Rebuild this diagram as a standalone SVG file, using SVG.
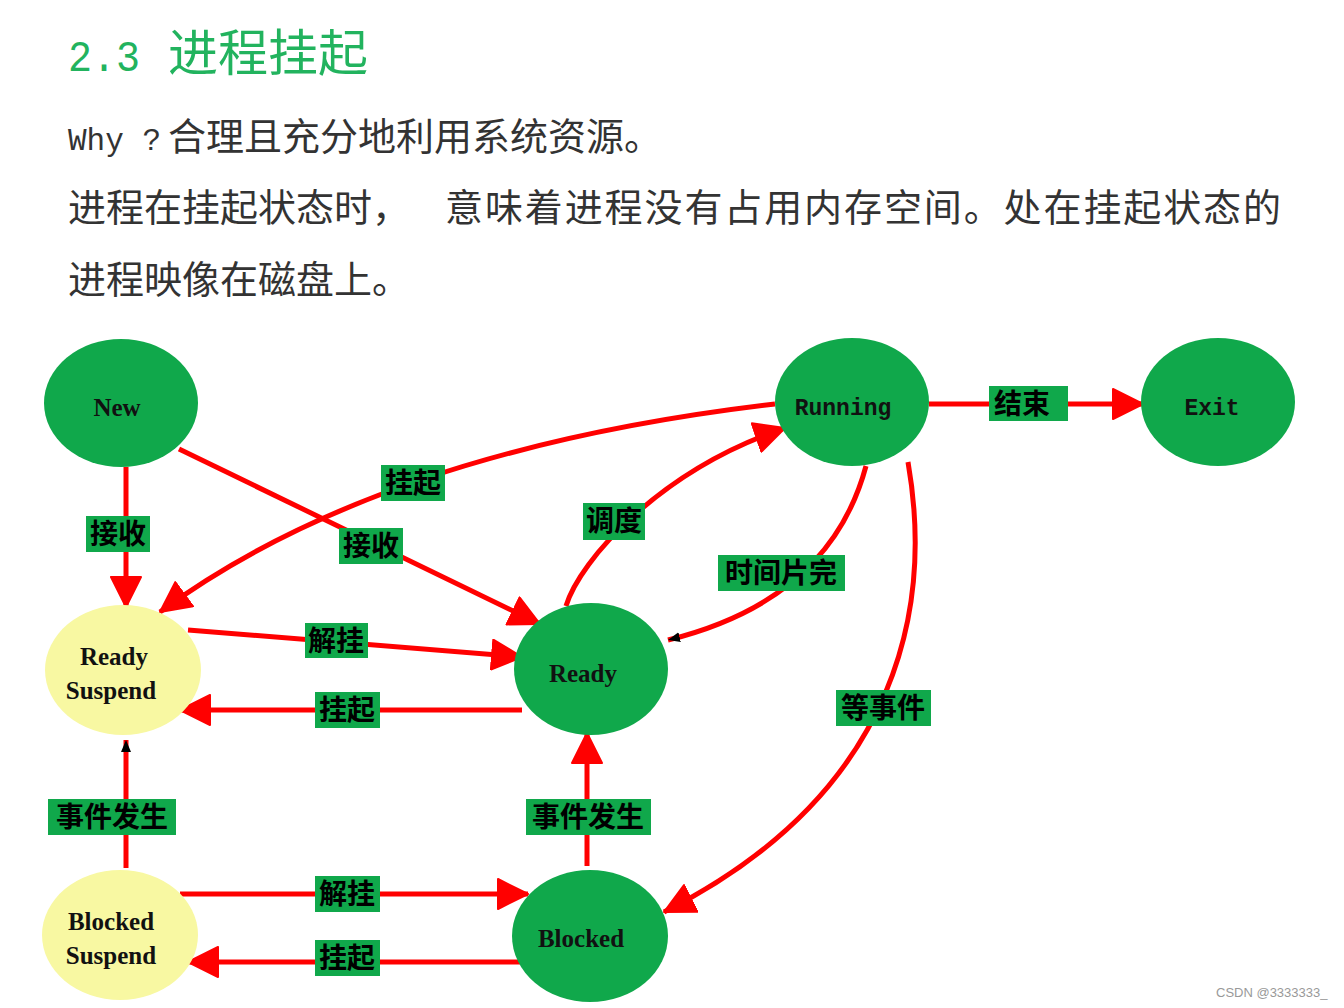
<svg xmlns="http://www.w3.org/2000/svg" width="1344" height="1008" viewBox="0 0 1344 1008">
<style>
.node{fill:#10a84b}
.sus{fill:#f8f8a2}
.edge{fill:none;stroke:#ff0000;stroke-width:5}
.arr{marker-end:url(#big)}
.sarr{marker-end:url(#small)}
.lbox{fill:#10a84b}
.ltxt{font-family:"Noto Sans CJK SC","Noto Sans CJK JP",sans-serif;font-weight:bold;font-size:28px;fill:#000;text-anchor:middle}
.ntxt{font-family:"Liberation Serif",serif;font-weight:bold;font-size:25px;fill:#111;text-anchor:middle}
.mtxt{font-family:"Liberation Mono",monospace;font-weight:bold;font-size:23px;fill:#111;text-anchor:middle}
.body{font-family:"Noto Sans CJK SC",sans-serif;font-size:38px;fill:#333}
</style>
<defs>
<marker id="big" viewBox="0 0 32 32" refX="31" refY="16" markerWidth="32" markerHeight="32" markerUnits="userSpaceOnUse" orient="auto">
<path d="M1,1 L31,16 L1,31 Z" fill="#ff0000" stroke="#ff0000" stroke-width="2" stroke-linejoin="round"/>
</marker>
<marker id="small" viewBox="0 0 12 12" refX="12" refY="6" markerWidth="12" markerHeight="12" markerUnits="userSpaceOnUse" orient="auto">
<path d="M0,1 L12,6 L0,11 Z" fill="#000"/>
</marker>
</defs>
<rect width="1344" height="1008" fill="#ffffff"/>

<g id="header">
<text x="68" y="71" font-family="Liberation Mono,monospace" font-size="44" fill="#22b35e" textLength="72" lengthAdjust="spacingAndGlyphs">2.3</text>
<text x="168" y="71" font-family="Noto Sans CJK SC,sans-serif" font-size="50" fill="#22b35e" textLength="200" lengthAdjust="spacing">进程挂起</text>
<text x="68" y="150" font-family="Liberation Mono,monospace" font-size="31" fill="#333">Why ?</text>
<text class="body" x="168" y="150" textLength="494" lengthAdjust="spacing">合理且充分地利用系统资源。</text>
<text class="body" x="68" y="221" textLength="342" lengthAdjust="spacing">进程在挂起状态时，</text>
<text class="body" x="445" y="221" textLength="836" lengthAdjust="spacing">意味着进程没有占用内存空间。处在挂起状态的</text>
<text class="body" x="68" y="293" textLength="342" lengthAdjust="spacing">进程映像在磁盘上。</text>
</g>

<g id="connectors">
<path class="edge arr" d="M126 467 L126 607"/>
<path class="edge arr" d="M179 449 L540 624"/>
<path class="edge arr" d="M775 404 Q380 450 160 612"/>
<path class="edge arr" d="M566 606 C580 560 660 470 785 428"/>
<path class="edge sarr" d="M866 466 Q830 600 668 640"/>
<path class="edge arr" d="M908 462 C932 600 905 790 664 912"/>
<path class="edge arr" d="M929 404 L1143 404"/>
<path class="edge arr" d="M188 630 L522 657"/>
<path class="edge arr" d="M522 710 L180 710"/>
<path class="edge sarr" d="M126 868 L126 740"/>
<path class="edge arr" d="M587 866 L587 733"/>
<path class="edge arr" d="M180 894 L528 894"/>
<path class="edge arr" d="M520 962 L188 962"/>

<g id="labels">
<rect class="lbox" x="86" y="516" width="64" height="36"/><text class="ltxt" x="118" y="544">接收</text>
<rect class="lbox" x="381" y="465" width="64" height="36"/><text class="ltxt" x="413" y="493">挂起</text>
<rect class="lbox" x="339" y="528" width="64" height="36"/><text class="ltxt" x="371" y="556">接收</text>
<rect class="lbox" x="583" y="503" width="62" height="37"/><text class="ltxt" x="614" y="531">调度</text>
<rect class="lbox" x="718" y="555" width="127" height="36"/><text class="ltxt" x="781" y="583">时间片完</text>
<rect class="lbox" x="989" y="386" width="79" height="35"/><text class="ltxt" x="1022" y="414">结束</text>
<rect class="lbox" x="305" y="623" width="63" height="35"/><text class="ltxt" x="336" y="651">解挂</text>
<rect class="lbox" x="315" y="692" width="65" height="36"/><text class="ltxt" x="347" y="720">挂起</text>
<rect class="lbox" x="836" y="690" width="95" height="36"/><text class="ltxt" x="883" y="718">等事件</text>
<rect class="lbox" x="48" y="799" width="128" height="36"/><text class="ltxt" x="112" y="827">事件发生</text>
<rect class="lbox" x="526" y="799" width="125" height="36"/><text class="ltxt" x="588" y="827">事件发生</text>
<rect class="lbox" x="315" y="876" width="65" height="36"/><text class="ltxt" x="347" y="904">解挂</text>
<rect class="lbox" x="315" y="940" width="65" height="36"/><text class="ltxt" x="347" y="968">挂起</text>
</g>
</g>

<g id="node-new"><ellipse class="node" cx="121" cy="403" rx="77" ry="64"/><text class="ntxt" x="117" y="416" font-size="23">New</text></g>
<g id="node-running"><ellipse class="node" cx="852" cy="402" rx="77" ry="64"/><text class="mtxt" x="843" y="415">Running</text></g>
<g id="node-exit"><ellipse class="node" cx="1218" cy="402" rx="77" ry="64"/><text class="mtxt" x="1212" y="415">Exit</text></g>
<g id="node-ready-suspend"><ellipse class="sus" cx="123" cy="670" rx="78" ry="65"/><text class="ntxt" x="114" y="665">Ready</text><text class="ntxt" x="111" y="699">Suspend</text></g>
<g id="node-ready"><ellipse class="node" cx="591" cy="669" rx="77" ry="66"/><text class="ntxt" x="583" y="682">Ready</text></g>
<g id="node-blocked-suspend"><ellipse class="sus" cx="120" cy="935" rx="78" ry="65"/><text class="ntxt" x="111" y="930">Blocked</text><text class="ntxt" x="111" y="964">Suspend</text></g>
<g id="node-blocked"><ellipse class="node" cx="590" cy="936" rx="78" ry="66"/><text class="ntxt" x="581" y="947">Blocked</text></g>

<text x="1216" y="997" font-family="Liberation Sans,sans-serif" font-size="13" fill="#999">CSDN @3333333_</text>
</svg>
